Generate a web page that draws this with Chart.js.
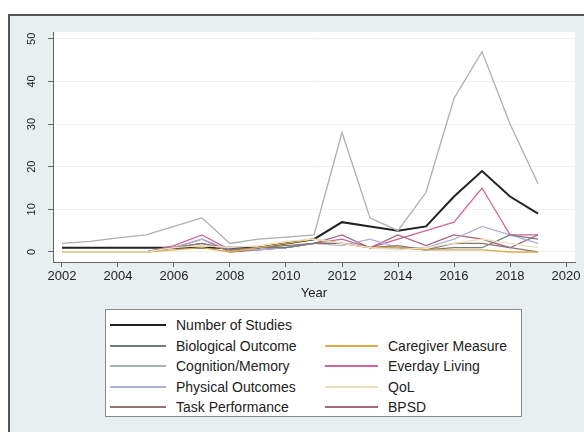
<!DOCTYPE html>
<html>
<head>
<meta charset="utf-8">
<script src="https://cdn.jsdelivr.net/npm/chart.js@4/dist/chart.umd.min.js"></script>
<style>
  html, body { margin: 0; padding: 0; background: #fff; }
  body { width: 584px; height: 432px; position: relative; overflow: hidden; font-family: "Liberation Sans", Arial, sans-serif; }
  #frame { position: absolute; left: 8px; top: 14px; width: 600px; height: 440px; background: #e9eff1; border-top: 2px solid #555; border-left: 2px solid #555; }
  #wrap { position: absolute; left: 0; top: 0; width: 584px; height: 432px; }
  #legend { position: absolute; left: 105px; top: 309px; width: 417px; height: 108px; background: #fff; border: 1px solid #8a8a8a; box-sizing: border-box; }
  .item { position: absolute; height: 20px; font-size: 14px; color: #222; line-height: 20px; white-space: nowrap; }
  .item .swatch { position: absolute; left: 0; top: 9px; height: 2px; }
  .item span { position: absolute; left: 66px; top: 0; }
</style>
</head>
<body>
<div id="frame"></div>
<div id="wrap"><canvas id="myChart" width="584" height="432"></canvas></div>
<div id="legend"></div>
<script>
// publication years
var years = [2002, 2003, 2004, 2005, 2006, 2007, 2008, 2009, 2010, 2011, 2012, 2013, 2014, 2015, 2016, 2017, 2018, 2019];

// counts per year
var numberOfStudies  = [1, 1, 1, 1, 1, 1, 1, 1, 2, 3, 7, 6, 5, 6, 13, 19, 13, 9];
var biological       = [0, 0, 0, 0, 1, 2, 0.5, 1, 1, 2, 2, 1, 1, 0.5, 1, 1, 4, 3];
var cognition        = [2, 2.5, 3.3, 4, 6, 8, 2, 3, 3.5, 4, 28, 8, 5, 14, 36, 47, 30, 16];
var physical         = [0, 0, 0, 0, 1, 3, 0.5, 0.5, 1, 2, 1.5, 3, 1, 1, 3, 6, 4, 2];
var taskPerformance  = [0, 0, 0, 0, 1, 2, 0.5, 1, 1.5, 2, 2, 1, 1.5, 0.5, 2, 2, 1, 0];
var caregiver        = [0, 0, 0, 0, 0.5, 1, 0, 1, 2, 3, 2, 1, 1, 0.5, 0.5, 0.5, 0, 0];
var everydayLiving   = [0, 0, 0, 0, 1.5, 4, 0.5, 0.5, 1, 2, 3, 1, 3, 5, 7, 15, 4, 4];
var qol              = [0, 0, 0, 0, 1, 1.5, 1, 1.5, 2.5, 3, 2, 1, 0.5, 1, 2, 3, 2, 1];
var bpsd             = [0, 0, 0, 0, 1, 3, 0, 0.5, 1, 2, 4, 1, 4, 1.5, 4, 3, 1, 4];

// axis ticks
var xTicks = [2002, 2004, 2006, 2008, 2010, 2012, 2014, 2016, 2018, 2020];
var yTicks = [0, 10, 20, 30, 40, 50];

function pts(vals) {
  return years.map(function (yr, i) { return { x: yr, y: vals[i] }; });
}

function series(label, vals, color, width, col, row) {
  return {
    label: label,
    data: pts(vals),
    borderColor: color,
    backgroundColor: color,
    borderWidth: width,
    fill: false,
    tension: 0,
    pointRadius: 0,
    legendCol: col,
    legendRow: row
  };
}

// drawn back to front, black total on top
var datasets = [
  series("QoL", qol, "#eadfbf", 1.3, 1, 3),
  series("Caregiver Measure", caregiver, "#d9ac4a", 1.3, 1, 1),
  series("Task Performance", taskPerformance, "#8f7470", 1.3, 0, 4),
  series("Biological Outcome", biological, "#6f7d7b", 1.3, 0, 1),
  series("Physical Outcomes", physical, "#aeb0d6", 1.3, 0, 3),
  series("BPSD", bpsd, "#a4667a", 1.3, 1, 4),
  series("Everday Living", everydayLiving, "#d0659a", 1.3, 1, 2),
  series("Cognition/Memory", cognition, "#a9b0b0", 1.3, 0, 2),
  series("Number of Studies", numberOfStudies, "#222222", 2, 0, 0)
];

// white plot region
var plotBg = {
  id: "plotBg",
  beforeDraw: function (chart) {
    var a = chart.chartArea;
    chart.ctx.save();
    chart.ctx.fillStyle = "#ffffff";
    chart.ctx.fillRect(a.left, a.top, a.right - a.left, a.bottom - a.top);
    chart.ctx.restore();
  }
};

var ctx = document.getElementById("myChart");

var chart = new Chart(ctx, {
  type: "line",
  data: { datasets: datasets },
  plugins: [plotBg],
  options: {
    responsive: false,
    animation: false,
    layout: { padding: { left: 0, top: 32, right: 9, bottom: 125 } },
    plugins: {
      legend: { display: false },
      tooltip: { enabled: false }
    },
    scales: {
      x: {
        type: "linear",
        min: 2001.68,
        max: 2020.32,
        afterBuildTicks: function (s) { s.ticks = xTicks.map(function (v) { return { value: v }; }); },
        afterFit: function (s) { s.height = 45; },
        border: { display: true, color: "#666", width: 1 },
        grid: { drawOnChartArea: false, tickLength: 5, tickColor: "#666" },
        ticks: {
          color: "#222",
          padding: 2,
          maxRotation: 0,
          font: { family: "Liberation Sans", size: 13 },
          callback: function (v) { return String(v); }
        },
        title: {
          display: true,
          text: "Year",
          color: "#222",
          font: { family: "Liberation Sans", size: 13 },
          padding: { top: 0, bottom: 6 }
        }
      },
      y: {
        min: -2.35,
        max: 51.6,
        afterBuildTicks: function (s) { s.ticks = yTicks.map(function (v) { return { value: v }; }); },
        afterFit: function (s) { s.width = 53; },
        border: { display: true, color: "#666", width: 1 },
        grid: { color: "#eef2f3", tickLength: 5, tickColor: "#666" },
        ticks: {
          color: "#222",
          padding: 10,
          minRotation: 90,
          maxRotation: 90,
          crossAlign: "center",
          font: { family: "Liberation Sans", size: 11 }
        }
      }
    }
  }
});

// two-column legend below the plot, built from the datasets
var legend = document.getElementById("legend");
datasets.forEach(function (ds) {
  var item = document.createElement("div");
  item.className = "item";
  item.style.left = (ds.legendCol === 0 ? 4 : 219) + "px";
  item.style.top = Math.round(5 + ds.legendRow * 20.5) + "px";
  var sw = document.createElement("div");
  sw.className = "swatch";
  sw.style.background = ds.borderColor;
  sw.style.width = (ds.legendCol === 0 ? 56 : 53) + "px";
  var txt = document.createElement("span");
  txt.textContent = ds.label;
  if (ds.legendCol === 1) txt.style.left = "63px";
  item.appendChild(sw);
  item.appendChild(txt);
  legend.appendChild(item);
});
</script>
</body>
</html>
